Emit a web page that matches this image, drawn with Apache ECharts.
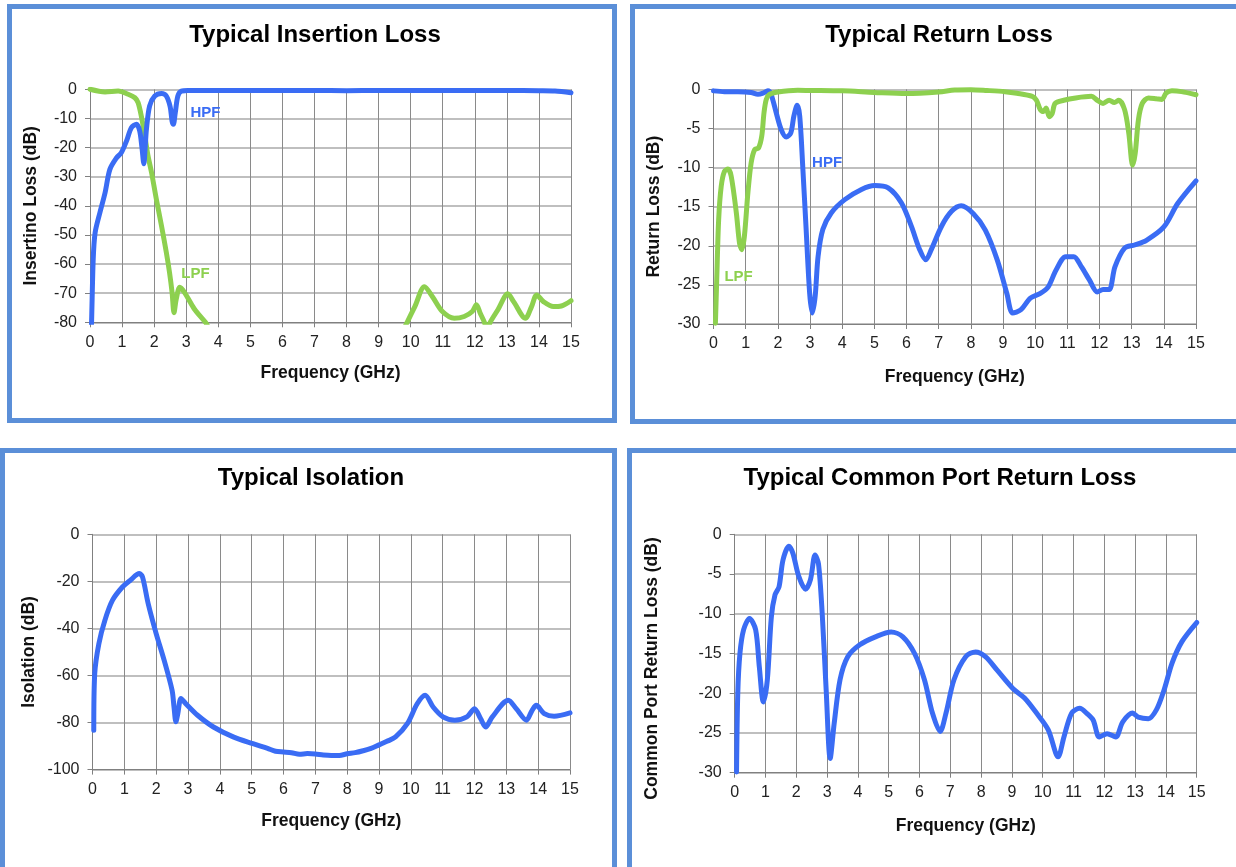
<!DOCTYPE html>
<html>
<head>
<meta charset="utf-8">
<script src="https://cdn.jsdelivr.net/npm/echarts@6/dist/echarts.min.js"></script>
<style>
html,body{margin:0;padding:0;background:#fff;}
#c{width:1236px;height:867px;}
</style>
</head>
<body>
<div id="c"></div>
<script>
// ---------- DATA ----------
const xTicks = [0,1,2,3,4,5,6,7,8,9,10,11,12,13,14,15];

// Typical Insertion Loss - HPF (blue)
const ilHpfFreq = [0.04,0.05,0.1,0.16,0.31,0.47,0.62,0.83,0.98,1.14,1.29,1.45,1.55,1.62,1.68,1.72,1.76,1.86,2.02,2.23,2.38,2.5,2.56,2.6,2.66,2.74,2.85,3.05,4,5,6,7,8,9,10,11,12,13,14,14.5,15];
const ilHpfDb   = [-82,-79.5,-58.4,-49.2,-42.3,-35.5,-27.5,-23.5,-21.7,-17.7,-13.2,-12.0,-14.3,-20,-25.6,-20,-13.7,-5.7,-2.3,-1.4,-2.3,-6,-11,-12,-8,-2.3,-0.6,-0.4,-0.4,-0.4,-0.4,-0.4,-0.5,-0.4,-0.4,-0.4,-0.4,-0.4,-0.5,-0.6,-1.2];

// Typical Insertion Loss - LPF (green)
const ilLpfFreq = [0,0.47,0.88,1.19,1.4,1.5,1.6,1.71,1.81,1.92,2.07,2.23,2.38,2.48,2.56,2.62,2.69,2.8,2.95,3.26,3.6,3.7,3.75,9.75,9.8,9.89,10.13,10.43,10.68,10.99,11.36,11.67,11.92,12.05,12.17,12.3,12.35,12.39,12.42,12.48,12.72,13.03,13.21,13.58,13.77,13.93,14.14,14.45,14.7,15];
const ilLpfDb   = [0,-0.9,-0.6,-1.7,-2.9,-4.6,-9.2,-16,-22.9,-28.6,-37.8,-46.9,-56,-62.9,-69.8,-76.7,-72,-68,-69.8,-75.5,-80,-82,null,null,-82,-80,-74.6,-67.8,-71.2,-76.3,-78.6,-78,-76.3,-74,-76.9,-80,-82,null,-82,-80,-75.7,-70.2,-72.9,-78.6,-74.6,-70.6,-72.9,-74.6,-74.4,-72.6];

// Typical Return Loss - HPF (blue)
const rlHpfFreq = [0,0.34,0.76,1.17,1.38,1.54,1.69,1.79,1.95,2.1,2.26,2.4,2.5,2.6,2.68,2.78,2.88,2.99,3.07,3.16,3.25,3.4,3.66,4.08,4.6,5.01,5.43,5.84,6.15,6.41,6.6,6.77,7.09,7.4,7.7,8.08,8.45,8.82,9.12,9.3,9.55,9.85,10.16,10.4,10.65,10.95,11.2,11.44,11.69,11.93,12.11,12.3,12.48,12.78,13.09,13.46,14.0,14.43,15];
const rlHpfDb   = [-0.2,-0.3,-0.3,-0.4,-0.64,-0.5,-0.2,-0.64,-3.0,-5.1,-6.1,-5.6,-3.4,-2.05,-3.4,-10.3,-17.9,-26.1,-28.6,-26.5,-21.4,-17.9,-15.8,-14.1,-12.8,-12.3,-12.6,-14.5,-17.5,-20.5,-21.8,-20.5,-17.5,-15.6,-14.9,-15.9,-18,-21.8,-26.1,-28.6,-28.2,-26.7,-26.1,-25.3,-23.1,-21.4,-21.4,-22.7,-24.4,-25.9,-25.6,-25.6,-22.7,-20.3,-19.9,-19.3,-17.6,-14.6,-11.7];

// Typical Return Loss - LPF (green)
const rlLpfFreq = [0.06,0.1,0.16,0.24,0.34,0.45,0.55,0.71,0.81,0.88,0.96,1.07,1.17,1.28,1.4,1.5,1.57,1.64,1.74,2.0,2.62,3,4,5,6,7,7.5,8,8.5,9.06,9.43,9.91,10.04,10.16,10.26,10.34,10.44,10.53,10.62,10.89,11.26,11.75,11.93,12.11,12.3,12.46,12.6,12.78,12.91,13.03,13.11,13.21,13.33,13.52,13.76,13.94,14.07,14.25,14.55,15];
const rlLpfDb   = [-29.9,-24.4,-16.7,-12.4,-10.5,-10.2,-11.1,-15.8,-19.7,-20.5,-18.8,-13.2,-9.4,-7.7,-7.5,-6.0,-3.0,-1.3,-0.64,-0.34,-0.13,-0.15,-0.2,-0.4,-0.55,-0.35,-0.1,-0.05,-0.15,-0.3,-0.5,-0.9,-1.4,-2.6,-2.85,-2.4,-3.5,-3.1,-1.8,-1.4,-1.1,-0.9,-1.4,-1.8,-1.4,-1.7,-1.4,-2.6,-5.6,-9.7,-8.2,-3.9,-1.8,-1.1,-1.2,-1.3,-0.5,-0.2,-0.3,-0.7];

// Typical Isolation (blue)
const isoFreq = [0.04,0.07,0.2,0.39,0.63,0.94,1.19,1.47,1.57,1.75,2.0,2.25,2.5,2.56,2.62,2.68,2.78,2.93,3.3,3.8,4.42,5.04,5.5,5.75,6.0,6.25,6.5,6.75,7.0,7.25,7.5,7.75,8.0,8.25,8.5,8.75,9.0,9.25,9.52,9.89,10.2,10.45,10.7,11.01,11.38,11.76,12.0,12.19,12.35,12.56,13.06,13.31,13.63,13.81,13.94,14.19,14.5,15];
const isoDb   = [-83.3,-59.2,-46.5,-36.5,-28,-22.4,-19.5,-16.7,-18.1,-29.5,-42.2,-53.5,-66.3,-73.4,-79.7,-76.2,-69.8,-72,-76.9,-81.9,-86.1,-89,-91,-92.2,-92.5,-92.8,-93.5,-93.2,-93.4,-93.8,-94,-94,-93.3,-92.8,-92,-91,-89.5,-88,-86.1,-80.5,-72,-68.4,-73.4,-77.6,-79,-77.6,-74.1,-78.3,-81.9,-77.6,-70.5,-74.1,-79,-74.8,-72.7,-76.2,-77.3,-75.9];

// Typical Common Port Return Loss (blue)
const cpFreq = [0.06,0.1,0.17,0.29,0.48,0.68,0.8,0.93,1.06,1.19,1.31,1.44,1.57,1.76,1.89,2.08,2.3,2.46,2.61,2.72,2.84,2.97,3.1,3.23,3.42,3.67,4.06,4.57,5.08,5.46,5.84,6.16,6.42,6.67,6.86,7.12,7.5,7.82,8.14,8.52,9.03,9.41,9.8,10.18,10.5,10.69,10.94,11.2,11.45,11.64,11.84,12.09,12.37,12.6,12.92,13.1,13.43,13.69,13.94,14.2,14.52,15];
const cpDb   = [-29.9,-20,-15,-12,-10.6,-12,-16.7,-21.1,-18.3,-10.4,-7.6,-6.6,-3.2,-1.5,-2.4,-5.3,-6.9,-5.7,-2.6,-3.7,-9.9,-19.6,-28.2,-23.8,-18.3,-15.4,-13.9,-12.9,-12.3,-12.9,-15,-18.3,-22.5,-24.8,-22.5,-18.3,-15.4,-14.8,-15.4,-17.1,-19.4,-20.6,-22.5,-24.6,-28,-25.5,-22.5,-21.9,-22.6,-23.4,-25.5,-25.1,-25.5,-23.6,-22.5,-23,-23.2,-22.1,-19.6,-16.2,-13.5,-11.1];

// ---------- STYLE ----------
const BLUE = '#3a6cf4';
const GREEN = '#8dd04f';
const FRAME = '#5b8fd8';
const FONT = 'Liberation Sans, Arial, sans-serif';

function pairs(f, d){ return f.map((x,i)=>[x, d[i]===null ? '-' : d[i]]); }

const grids = [
  {left:90,    top:89.3,  width:481,   height:233},
  {left:713.5, top:89.3,  width:482.5, height:234.7},
  {left:92.5,  top:534.3, width:477.5, height:235.3},
  {left:734.7, top:534.3, width:462,   height:238.4}
];

function xAx(i, gap){
  return {
    type:'value', gridIndex:i, min:0, max:15, interval:1,
    name:'Frequency (GHz)', nameLocation:'middle', nameGap:gap,
    nameTextStyle:{fontFamily:FONT, fontSize:17.5, fontWeight:'bold', color:'#111'},
    axisLine:{show:true, onZero:false, lineStyle:{color:'#808080', width:1}},
    axisTick:{show:true, length:5, lineStyle:{color:'#808080'}},
    axisLabel:{fontFamily:FONT, fontSize:16, color:'#222', margin:12},
    splitLine:{show:true, lineStyle:{color:'#8a8a8a', width:1}}
  };
}
function yAx(i, min, interval, name, gap, pad){
  return {
    type:'value', gridIndex:i, min:min, max:0, interval:interval,
    name:name, nameLocation:'middle', nameGap:gap, nameRotate:90,
    nameTextStyle:{fontFamily:FONT, fontSize:17.5, fontWeight:'bold', color:'#111', padding:pad||0},
    axisLine:{show:true, lineStyle:{color:'#808080', width:1}},
    axisTick:{show:true, length:5, lineStyle:{color:'#808080'}},
    axisLabel:{fontFamily:FONT, fontSize:16, color:'#222', margin:13},
    splitLine:{show:true, lineStyle:{color:'#aaaaaa', width:1.5}}
  };
}
function lineSeries(i, data, color, mark){
  const s = {
    type:'line', xAxisIndex:i, yAxisIndex:i, data:data,
    showSymbol:false, symbol:'none', smooth:0.3, connectNulls:false,
    lineStyle:{color:color, width:5, cap:'round', join:'round'},
    clip:true, z:3
  };
  if (mark) {
    s.markPoint = {
      symbol:'circle', symbolSize:0, silent:true,
      data:[{coord:mark.coord, label:{show:true, formatter:mark.text, color:color,
        fontFamily:FONT, fontWeight:'bold', fontSize:15, position:'inside'}}]
    };
  }
  return s;
}
function frame(x, y, w, h){
  return {type:'rect', silent:true, z:-1,
    shape:{x:x, y:y, width:w, height:h},
    style:{fill:null, stroke:FRAME, lineWidth:5}};
}
function ttl(text, cx, top){
  return {text:text, left:cx, top:top, textAlign:'center',
    textStyle:{fontFamily:FONT, fontSize:24, fontWeight:'bold', color:'#000'}};
}

const option = {
  animation:false,
  backgroundColor:'#fff',
  title:[
    ttl('Typical Insertion Loss', 310, 18),
    ttl('Typical Return Loss', 934, 18),
    ttl('Typical Isolation', 306, 461),
    ttl('Typical Common Port Return Loss', 935, 461)
  ],
  graphic:[
    frame(9.5, 6.5, 605, 414),
    frame(632.5, 6.5, 700, 415),
    frame(2.5, 450.5, 612, 500),
    frame(629.5, 450.5, 700, 500)
  ],
  grid:grids,
  xAxis:[xAx(0,42), xAx(1,44), xAx(2,43), xAx(3,44)],
  yAxis:[
    yAx(0,-80,10,'Insertino Loss (dB)',50),
    yAx(1,-30,5,'Return Loss (dB)',50),
    yAx(2,-100,20,'Isolation (dB)',54),
    yAx(3,-30,5,'Common Port Return Loss (dB)',74,[0,30,0,0])
  ],
  series:[
    lineSeries(0, pairs(ilLpfFreq, ilLpfDb), GREEN, {coord:[3.29,-63.2], text:'LPF'}),
    lineSeries(0, pairs(ilHpfFreq, ilHpfDb), BLUE,  {coord:[3.6,-8.2],  text:'HPF'}),
    lineSeries(1, pairs(rlHpfFreq, rlHpfDb), BLUE,  {coord:[3.53,-9.46], text:'HPF'}),
    lineSeries(1, pairs(rlLpfFreq, rlLpfDb), GREEN, {coord:[0.78,-24.0], text:'LPF'}),
    lineSeries(2, pairs(isoFreq, isoDb), BLUE),
    lineSeries(3, pairs(cpFreq, cpDb), BLUE)
  ]
};

const chart = echarts.init(document.getElementById('c'), null, {renderer:'canvas', width:1236, height:867});
chart.setOption(option);
</script>
</body>
</html>
